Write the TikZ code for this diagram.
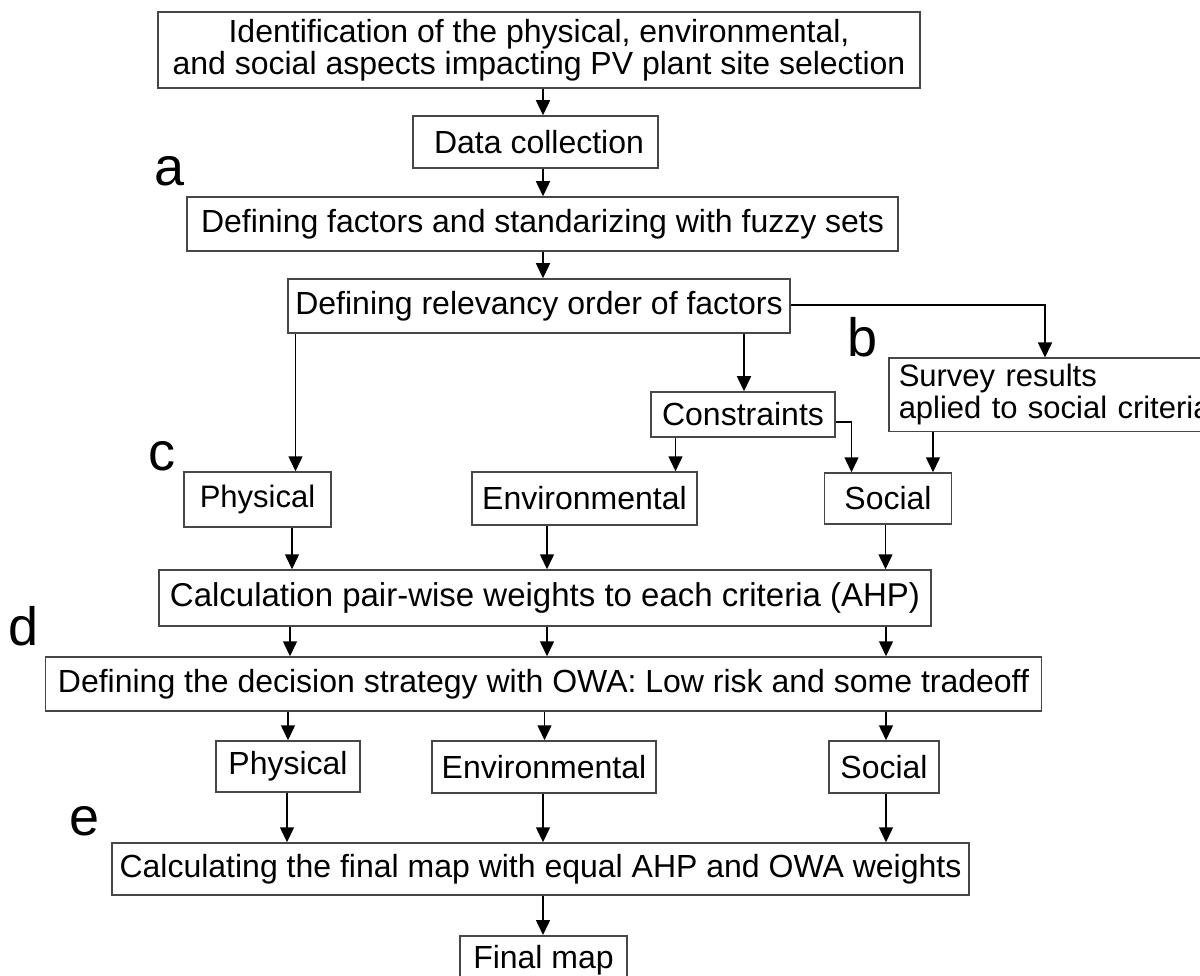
\documentclass[tikz,border=0pt]{standalone}
\usepackage{fontspec}
\setmainfont{Liberation Sans}
\usetikzlibrary{arrows.meta}
\begin{document}
\begin{tikzpicture}[x=1pt,y=-1pt,
  box/.style={draw=black!72, line width=1.5pt, font=\fontsize{32}{32}\selectfont, inner sep=0pt, align=center},
  arr/.style={draw=black, line width=1.5pt, -{Triangle[length=15pt,width=14pt]}},
  lbl/.style={font=\fontsize{54}{54}\selectfont, anchor=base, inner sep=0pt}]
\useasboundingbox (0,0) rectangle (1200,976);
\fill[white] (0,0) rectangle (1200,976);

% boxes
\node[box, minimum width=762, minimum height=76] (top) at (539,50) {Identification of the physical, environmental,\\and social aspects impacting PV plant site selection};
\node[box, minimum width=245, minimum height=52] (data) at (535.5,142) {\hspace{7pt}Data collection};
\node[box, minimum width=711, minimum height=54] (fuzzy) at (542.5,224) {Defining factors and standarizing with fuzzy sets};
\node[box, minimum width=502, minimum height=54] (relev) at (539,306) {Defining relevancy order of factors};
\node[box, minimum width=184, minimum height=45] (cons) at (743,414.5) {Constraints};
\node[box, font=\fontsize{31}{32}\selectfont, align=left, anchor=north west, minimum height=73, text width=330, inner xsep=10] (survey) at (888,357.5) {Survey results\\aplied to social criteria};
\node[box, font=\fontsize{31}{32}\selectfont, minimum width=147, minimum height=55] (phys1) at (257.5,499.5) {Physical};
\node[box, minimum width=225, minimum height=53] (env1) at (584.5,498.5) {Environmental};
\node[box, minimum width=127, minimum height=51] (soc1) at (888,498.5) {Social};
\node[box, font=\fontsize{33}{33}\selectfont, minimum width=772, minimum height=56] (ahp) at (545,598) {Calculation pair-wise weights to each criteria (AHP)};
\node[box, minimum width=996, minimum height=54] (owa) at (543.5,684) {Defining the decision strategy with OWA: Low risk and some tradeoff};
\node[box, minimum width=144, minimum height=51] (phys2) at (288,766.5) {Physical};
\node[box, minimum width=224, minimum height=52] (env2) at (544,767) {Environmental};
\node[box, minimum width=110, minimum height=52] (soc2) at (884,767) {Social};
\node[box, minimum width=857, minimum height=52] (final) at (540.5,869) {Calculating the final map with equal AHP and OWA weights};
\node[box, minimum width=167, minimum height=48, anchor=north] (map) at (543.5,935) {Final map};

% labels
\node[lbl] (la) at (170,185.5) {a};
\node[lbl] (lb) at (862.5,357) {b};
\node[lbl] (lc) at (161.7,470) {c};
\node[lbl] (ld) at (23.4,645) {d};
\node[lbl] (le) at (85,835) {e};

% column coordinates
\coordinate (cM) at (543,0);
\coordinate (cP) at (295.5,0);
\coordinate (cC) at (744,0);
\coordinate (cS) at (1045,305);
\coordinate (cE) at (675.5,0);
\coordinate (cCS) at (851.5,422);
\coordinate (cSv) at (933,0);
\coordinate (k1) at (292,0);
\coordinate (k2) at (547,0);
\coordinate (k3) at (885.5,0);
\coordinate (m1) at (290,0);
\coordinate (m2) at (547,0);
\coordinate (m3) at (886,0);
\coordinate (n1) at (288,0);
\coordinate (n2) at (544.5,0);
\coordinate (n3) at (886,0);
\coordinate (p1) at (287,0);
\coordinate (p2) at (543,0);
\coordinate (p3) at (886,0);

% connectors
\draw[arr] (top.south -| cM) -- (data.north -| cM);
\draw[arr] (data.south -| cM) -- (fuzzy.north -| cM);
\draw[arr] (fuzzy.south -| cM) -- (relev.north -| cM);
\draw[arr] (relev.south -| cP) -- (phys1.north -| cP);
\draw[arr] (relev.south -| cC) -- (cons.north -| cC);
\draw[arr] (relev.east |- cS) -| (survey.north -| cS);
\draw[arr] (cons.south -| cE) -- (env1.north -| cE);
\draw[arr] (cons.east |- cCS) -| (soc1.north -| cCS);
\draw[arr] (survey.south -| cSv) -- (soc1.north -| cSv);

\draw[arr] (phys1.south -| k1) -- (ahp.north -| k1);
\draw[arr] (env1.south -| k2) -- (ahp.north -| k2);
\draw[arr] (soc1.south -| k3) -- (ahp.north -| k3);

\draw[arr] (ahp.south -| m1) -- (owa.north -| m1);
\draw[arr] (ahp.south -| m2) -- (owa.north -| m2);
\draw[arr] (ahp.south -| m3) -- (owa.north -| m3);

\draw[arr] (owa.south -| n1) -- (phys2.north -| n1);
\draw[arr] (owa.south -| n2) -- (env2.north -| n2);
\draw[arr] (owa.south -| n3) -- (soc2.north -| n3);

\draw[arr] (phys2.south -| p1) -- (final.north -| p1);
\draw[arr] (env2.south -| p2) -- (final.north -| p2);
\draw[arr] (soc2.south -| p3) -- (final.north -| p3);

\draw[arr] (final.south -| p2) -- (map.north -| p2);
\end{tikzpicture}
\end{document}
